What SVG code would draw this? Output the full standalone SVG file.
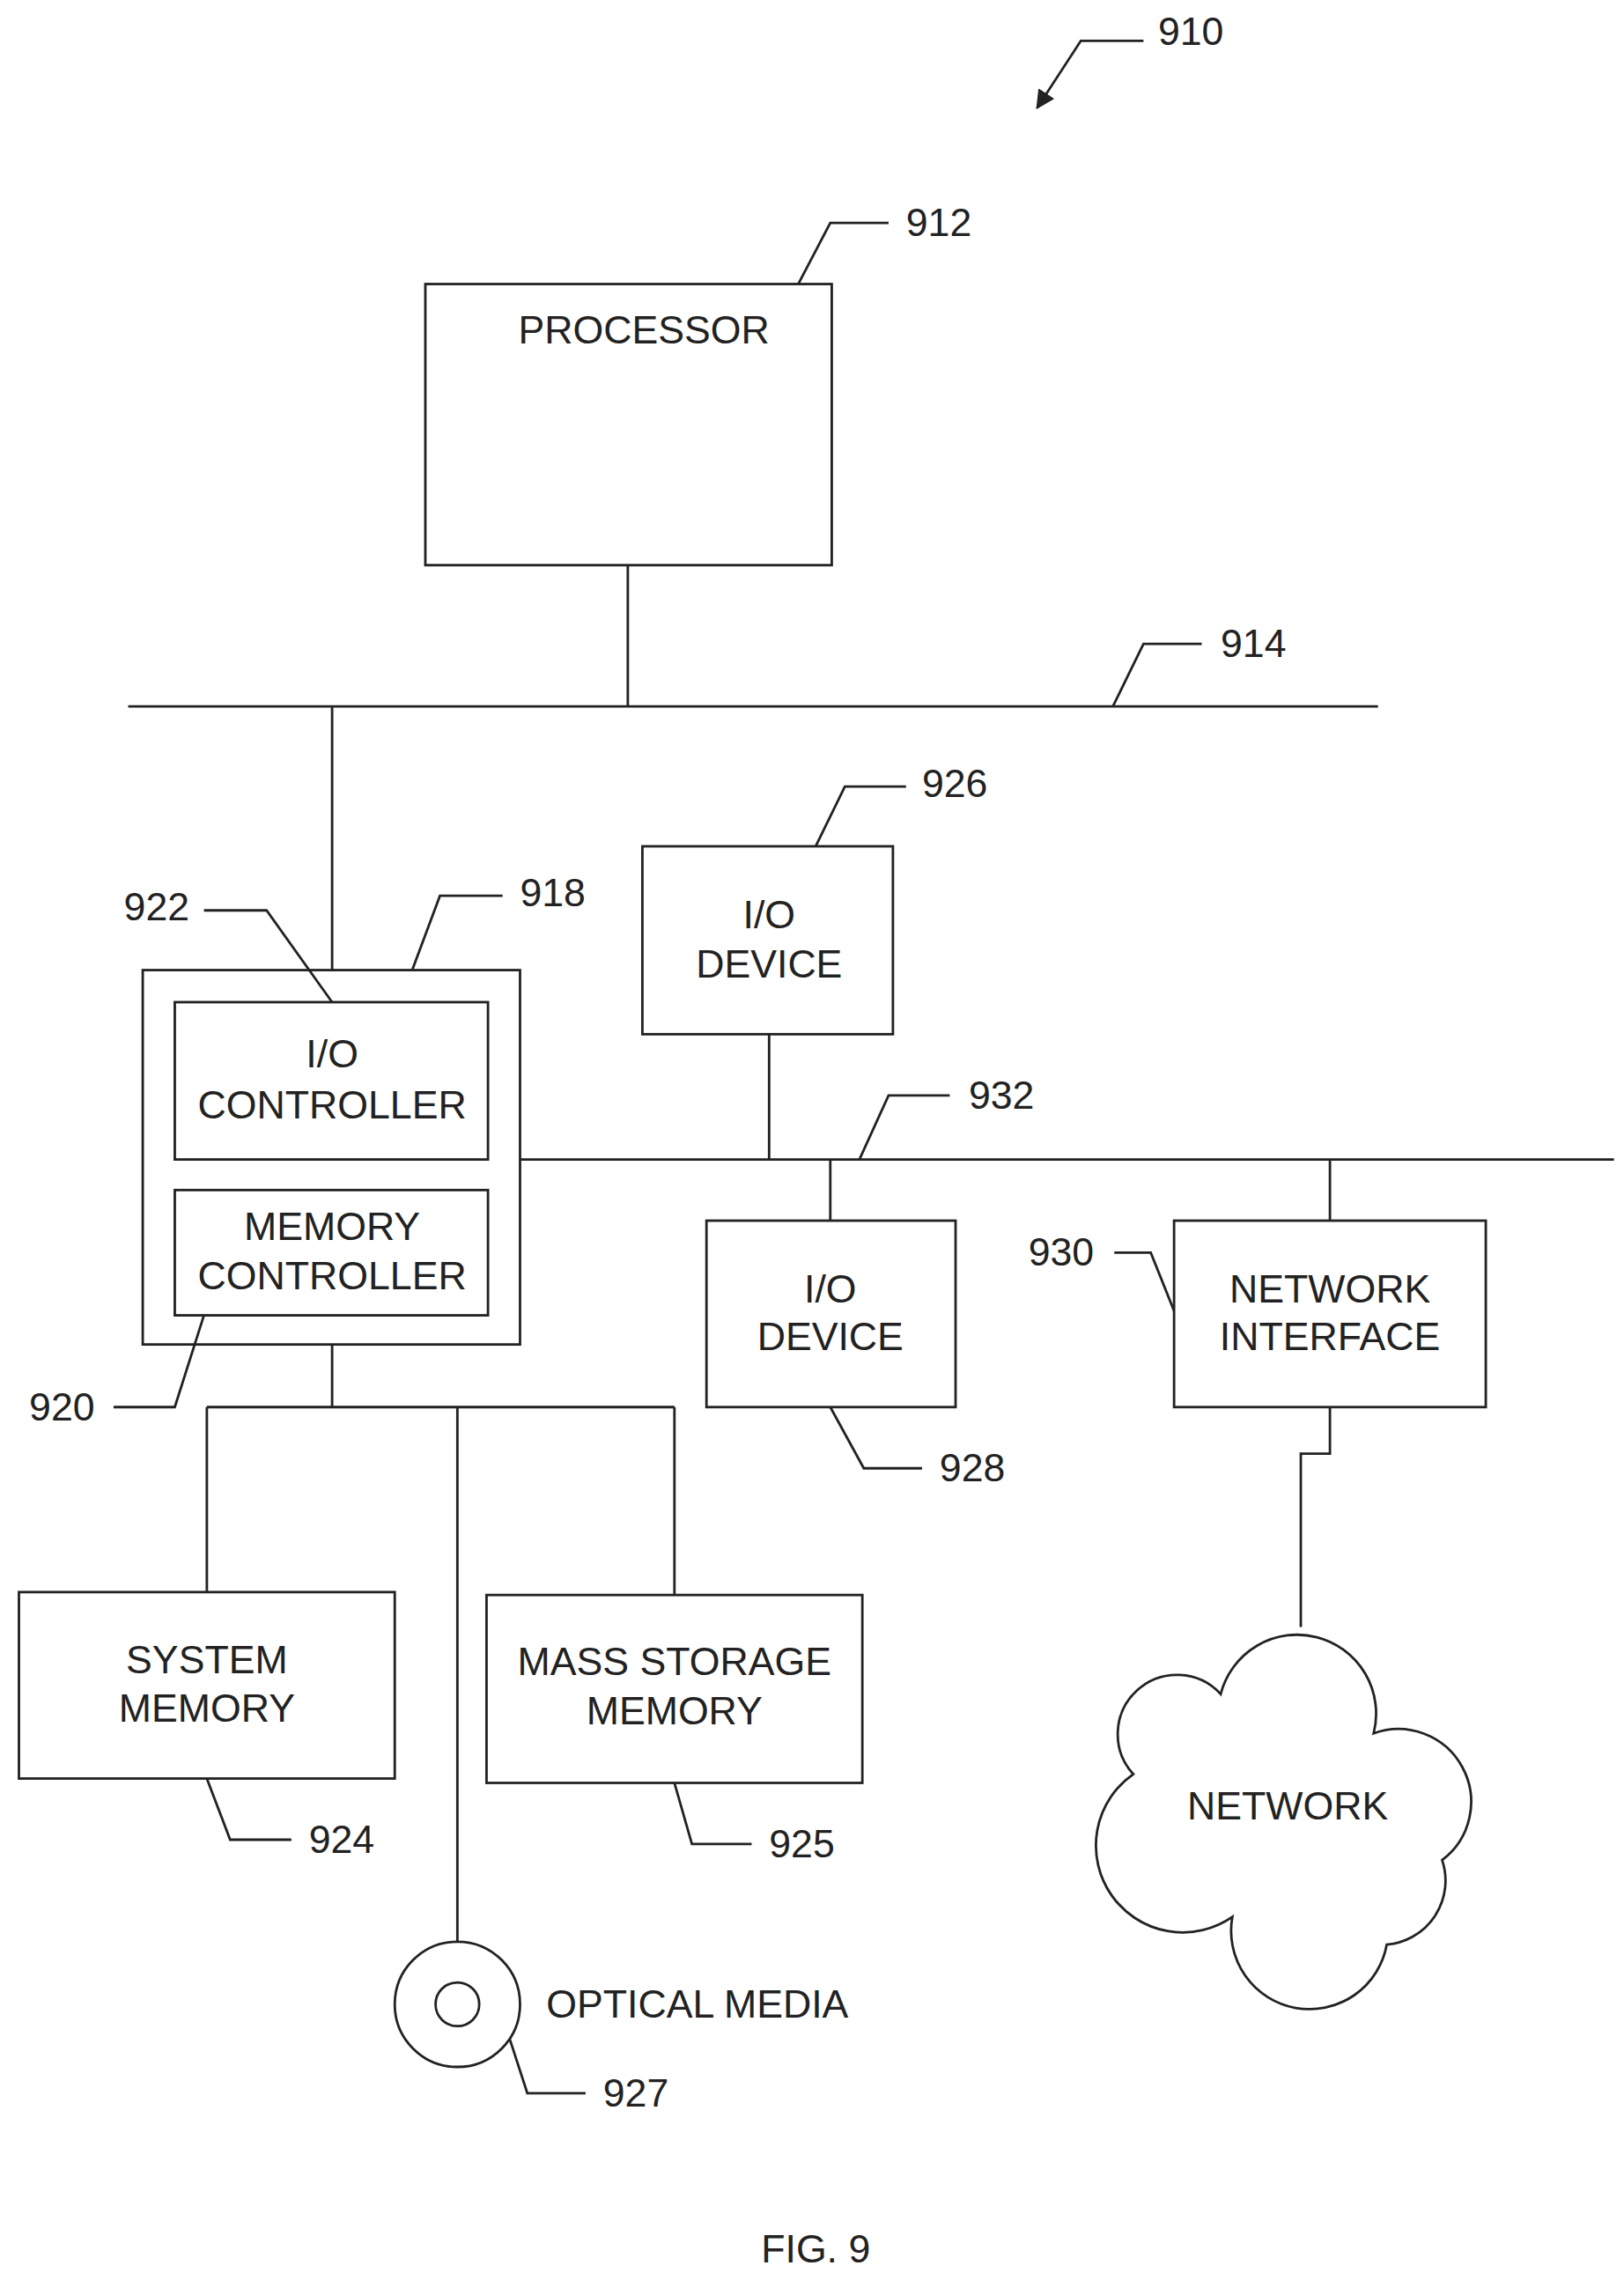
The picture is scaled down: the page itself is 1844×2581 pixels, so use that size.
<svg xmlns="http://www.w3.org/2000/svg" width="1844" height="2581" viewBox="0 0 1844 2581">
<style>
.s{fill:none;stroke:#222;stroke-width:1.7}
.b{fill:#fff;stroke:#222;stroke-width:1.7}
text{font-family:"Liberation Sans",Arial,sans-serif;font-size:27px;fill:#222}
.c{text-anchor:middle}
</style>
<defs><marker id="ah" viewBox="0 0 10 10" refX="9" refY="5" markerWidth="13" markerHeight="13" orient="auto" markerUnits="userSpaceOnUse"><path d="M0,0 L10,5 L0,10 z" fill="#222"/></marker></defs>
<rect width="1844" height="2581" fill="#fff"/>
<g transform="scale(1.654)">
<g id="n918"><rect class="b" x="98" y="666" width="259" height="257"/></g>
<g id="connectors">
<path class="s" d="M431,388V485M88,485H946M228,485V666M357,796H1108M528,710V796M570,796V838M913,796V838M913,966V998H893V1117M228,923V966M142,966H463M142,966V1093M314,966V1334M463,966V1095"/>
<path class="s" d="M785,28H742L712,74" marker-end="url(#ah)"/>
<path class="s" d="M548,195L570,153H610M764,485L785,442H825M283,666L302,615H345M140,625H183L228,688M78,966H120L140,903M590,796L610,752H652M560,581L580,540H622M570,966L593,1008H633M765,860H790L806,900M142,1221L158,1263H200M463,1224L475,1266H516M350,1400L362,1437H402"/>
</g>
<g id="labels">
<text x="795" y="31">910</text><text x="622" y="162">912</text><text x="838" y="451">914</text>
<text x="357" y="622">918</text><text x="85" y="632">922</text><text x="20" y="975">920</text>
<text x="665" y="761">932</text><text x="633" y="547">926</text><text x="645" y="1017">928</text>
<text x="706" y="869">930</text><text x="212" y="1272">924</text><text x="528" y="1275">925</text>
<text x="414" y="1446">927</text>
<text class="c" x="560" y="1553">FIG. 9</text>
</g>
<g id="processor"><rect class="b" x="292" y="195" width="279" height="193"/><text class="c" x="442" y="236">PROCESSOR</text></g>
<g id="ioctrl"><rect class="b" x="120" y="688" width="215" height="108"/><text class="c" x="228" y="733">I/O</text><text class="c" x="228" y="768">CONTROLLER</text></g>
<g id="memctrl"><rect class="b" x="120" y="817" width="215" height="86"/><text class="c" x="228" y="851">MEMORY</text><text class="c" x="228" y="885">CONTROLLER</text></g>
<g id="io926"><rect class="b" x="441" y="581" width="172" height="129"/><text class="c" x="528" y="637">I/O</text><text class="c" x="528" y="671">DEVICE</text></g>
<g id="io928"><rect class="b" x="485" y="838" width="171" height="128"/><text class="c" x="570" y="894">I/O</text><text class="c" x="570" y="927">DEVICE</text></g>
<g id="netif"><rect class="b" x="806" y="838" width="214" height="128"/><text class="c" x="913" y="894">NETWORK</text><text class="c" x="913" y="927">INTERFACE</text></g>
<g id="network"><path class="b" d="M838,1163A52,52 0 0 1 943,1190A50,50 0 0 1 990,1277A44,44 0 0 1 952,1335A48,48 0 0 1 846,1316A48,48 0 0 1 778,1218A38,38 0 0 1 838,1163Z"/><text class="c" x="884" y="1249">NETWORK</text></g>
<g id="sysmem"><rect class="b" x="13" y="1093" width="258" height="128"/><text class="c" x="142" y="1149">SYSTEM</text><text class="c" x="142" y="1182">MEMORY</text></g>
<g id="massmem"><rect class="b" x="334" y="1095" width="258" height="129"/><text class="c" x="463" y="1150">MASS STORAGE</text><text class="c" x="463" y="1184">MEMORY</text></g>
<g id="optical"><circle class="b" cx="314" cy="1376" r="43"/><circle class="s" cx="314" cy="1376" r="15"/><text x="375" y="1385">OPTICAL MEDIA</text></g>
</g>
</svg>
